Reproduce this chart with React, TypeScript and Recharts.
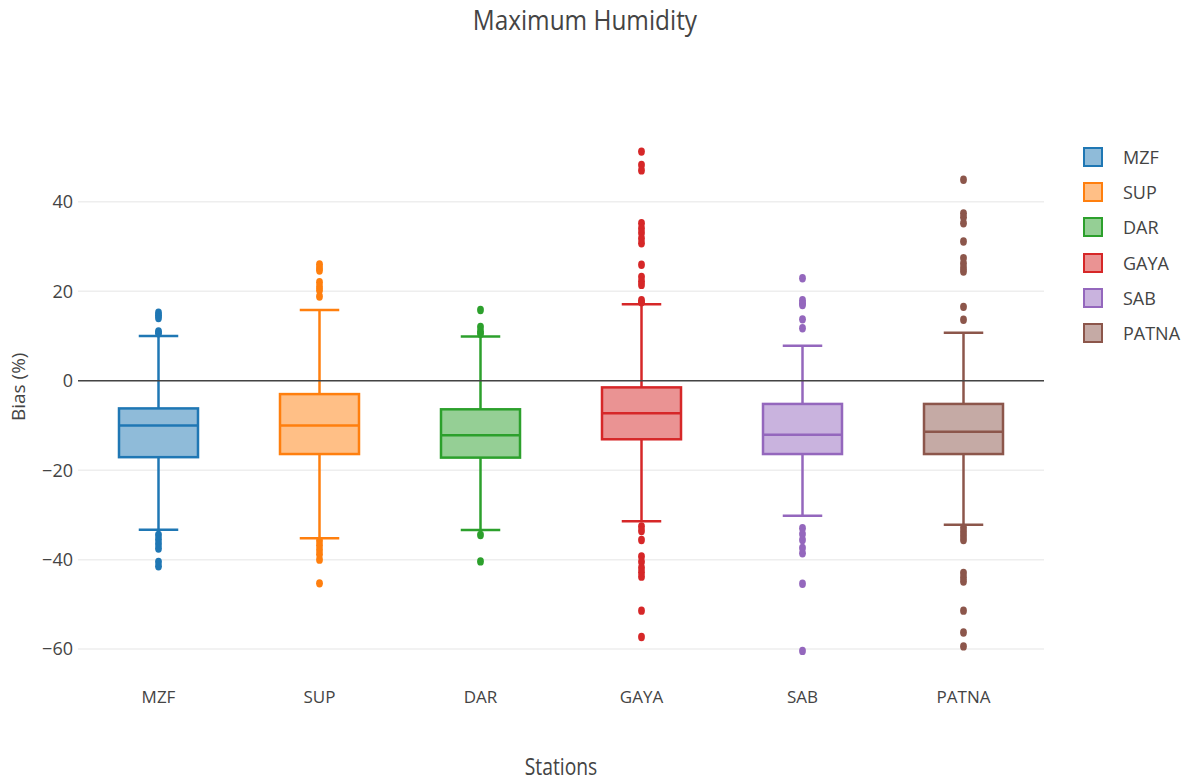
import React from "react";
import {
  ComposedChart, Bar, XAxis, YAxis, CartesianGrid, ReferenceLine, Label,
} from "recharts";

// ─── Data ────────────────────────────────────────────────────────────────────

const STATIONS = ["MZF", "SUP", "DAR", "GAYA", "SAB", "PATNA"];
const COLORS = ["#1f77b4", "#ff7f0e", "#2ca02c", "#d62728", "#9467bd", "#8c564b"];
const FILLS = [
  "rgba(31,119,180,0.5)", "rgba(255,127,14,0.5)", "rgba(44,160,44,0.5)",
  "rgba(214,39,40,0.5)", "rgba(148,103,189,0.5)", "rgba(140,86,75,0.5)",
];

const LOWER = [-33.3, -35.2, -33.4, -31.4, -30.2, -32.2];
const Q1 = [-17.1, -16.4, -17.2, -13.1, -16.4, -16.4];
const MEDIAN = [-10, -10, -12.2, -7.3, -12.1, -11.4];
const Q3 = [-6.2, -3.0, -6.4, -1.5, -5.2, -5.2];
const UPPER = [10, 15.8, 9.9, 17.1, 7.8, 10.7];

const OUTLIERS = [
  [15.2, 14.6, 14, 11, 10.6, -34.5, -35.5, -36.5, -37.5, -40.5, -41.5],
  [26, 25.2, 24.6, 22, 21, 20.2, 18.8, -35.8, -36.8, -37.8, -38.8, -40, -45.3],
  [15.8, 12, 11, 10.5, -34.5, -40.4],
  [51.2, 48.2, 47, 35.2, 34, 33, 31.8, 30.7, 25.9, 23.2, 22.2, 21.4, 18, 17.5,
    -32.6, -33.6, -35.6, -39.3, -40.5, -41.8, -42.8, -43.8, -51.4, -57.3],
  [22.9, 18, 17.3, 16.9, 13.7, 11.7, -33, -34.3, -35.6, -37.4, -38.6, -45.4, -60.4],
  [44.9, 37.4, 36.5, 35.2, 31.1, 27.4, 26.2, 25.2, 24.4, 16.5, 13.6,
    -32.9, -33.8, -34.7, -35.6, -43, -44, -44.9, -51.4, -56.3, -59.4],
];

const Y_TICKS = [-60, -40, -20, 0, 20, 40];

const data = STATIONS.map((name, i) => {
  const all = [LOWER[i], UPPER[i], ...OUTLIERS[i]];
  return { name, i, range: [Math.min(...all), Math.max(...all)] };
});

const FONT = '"Open Sans", verdana, arial, sans-serif';
const TXT = "#444";

// ─── Box shape: maps stats through the bar's own (scaled) range ─────────────

function BoxShape(props: any) {
  const { x, y, width, height, payload } = props;
  const i = payload.i;
  const [lo, hi] = payload.range;
  const top = Math.min(y, y + height);
  const bot = Math.max(y, y + height);
  const py = (v: number) => top + ((hi - v) / (hi - lo)) * (bot - top);
  const cx = x + width / 2;
  const c = COLORS[i];
  const cap = width / 4;
  const sw = 2.5;
  return (
    <g>
      <line x1={cx} x2={cx} y1={py(UPPER[i])} y2={py(Q3[i])} stroke={c} strokeWidth={sw} />
      <line x1={cx} x2={cx} y1={py(Q1[i])} y2={py(LOWER[i])} stroke={c} strokeWidth={sw} />
      <line x1={cx - cap} x2={cx + cap} y1={py(UPPER[i])} y2={py(UPPER[i])} stroke={c} strokeWidth={sw} />
      <line x1={cx - cap} x2={cx + cap} y1={py(LOWER[i])} y2={py(LOWER[i])} stroke={c} strokeWidth={sw} />
      <rect x={x} y={py(Q3[i])} width={width} height={py(Q1[i]) - py(Q3[i])}
        fill={FILLS[i]} stroke={c} strokeWidth={sw} />
      <line x1={x} x2={x + width} y1={py(MEDIAN[i])} y2={py(MEDIAN[i])} stroke={c} strokeWidth={sw} />
      {OUTLIERS[i].map((v, k) => (
        <ellipse key={k} cx={cx} cy={py(v)} rx={3.4} ry={4.2} fill={c} />
      ))}
    </g>
  );
}

const fmt = (v: number) => (v < 0 ? "\u2212" + Math.abs(v) : String(v));

export default function App() {
  return (
    <div style={{ position: "absolute", left: 0, top: 0, width: 1185, height: 783, background: "#fff", fontFamily: FONT }}>
      <div style={{
        position: "absolute", left: 0, top: 5, width: 1170, textAlign: "center",
        fontSize: 28, lineHeight: 1, color: TXT,
      }}>
        <span style={{ display: "inline-block", transform: "scaleX(0.87)" }}>Maximum Humidity</span>
      </div>

      <ComposedChart width={1185} height={783} data={data}
        margin={{ top: 134.6, right: 141, bottom: 86, left: 0 }}>
        <CartesianGrid horizontal vertical={false} horizontalValues={Y_TICKS} stroke="#eee" strokeWidth={1.5} />
        <XAxis dataKey="name" axisLine={false} tickLine={false} height={30} tickMargin={18}
          tick={{ fontSize: 17, fill: TXT, fontFamily: FONT }}>
          <Label content={({ viewBox }: any) => {
            const cx = viewBox.x + viewBox.width / 2;
            return (
              <text transform={`translate(${cx} 775) scale(0.84 1)`} textAnchor="middle"
                fontSize={23} fill={TXT} fontFamily={FONT}>Stations</text>
            );
          }} />
        </XAxis>
        <YAxis type="number" domain={[-64, 55]} ticks={Y_TICKS} width={78}
          axisLine={false} tickLine={false} tickSize={0} tickMargin={5}
          tickFormatter={fmt} tick={{ fontSize: 18, fill: TXT, fontFamily: FONT }}>
          <Label content={({ viewBox }: any) => {
            const cy = viewBox.y + viewBox.height / 2 - 14;
            return (
              <text x={18} y={cy} transform={`rotate(-90 18 ${cy})`} textAnchor="middle"
                dominantBaseline="central" fontSize={19} fill={TXT} fontFamily={FONT}>Bias (%)</text>
            );
          }} />
        </YAxis>
        <ReferenceLine y={0} stroke="#444" strokeWidth={1.5} />
        <Bar dataKey="range" barSize={79} shape={BoxShape} isAnimationActive={false} />
      </ComposedChart>

      <div style={{ position: "absolute", left: 1083, top: 139 }}>
        {STATIONS.map((s, i) => (
          <div key={s} style={{ display: "flex", alignItems: "center", height: 35.3 }}>
            <div style={{
              width: 16, height: 16, background: FILLS[i], border: `2px solid ${COLORS[i]}`,
            }} />
            <span style={{ marginLeft: 20, fontSize: 18, color: TXT }}>{s}</span>
          </div>
        ))}
      </div>
    </div>
  );
}
